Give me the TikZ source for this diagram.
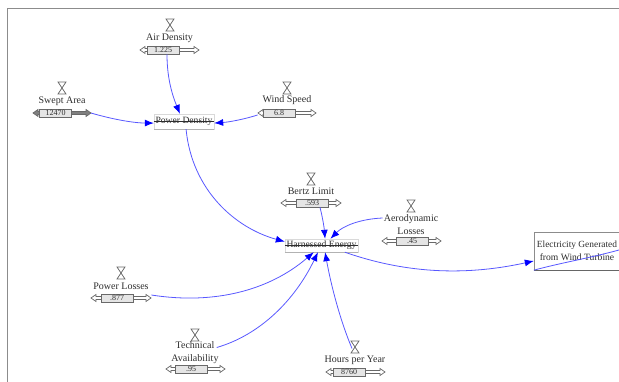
\documentclass[tikz,border=0pt]{standalone}
\usepackage{fontspec}
\setmainfont{Liberation Serif}
\usetikzlibrary{
  calc
  , arrows.meta
}
\definecolor{linkblue}{RGB}{88,88,255}
\definecolor{textgray}{RGB}{45,45,45}
\definecolor{railgray}{RGB}{105,105,105}

\begin{document}
\begin{tikzpicture}[x=1pt,y=-1pt]
      \tikzstyle{var label}=[text=textgray,font=\fontsize{10}{12.8}\selectfont,align=center,inner sep=0pt];
      \tikzstyle{stock box}=[draw=black!15,fill=white,inner sep=0pt,text=textgray
          ,font=\fontsize{9.6}{12.6}\selectfont,align=center];
      \tikzstyle{value box}=[draw=railgray,line width=0.8pt,fill=black!10,minimum width=32pt,minimum height=8pt
          ,inner sep=0pt,text=textgray,font=\fontsize{8}{8}\selectfont];
      \tikzstyle{link}=[draw=linkblue,line width=0.8pt,-{Latex[length=9pt,width=7pt,blue]}];

      \newcommand\sliderVar[7]{
        % name, rail west, rail east, box centre, rail y, value, rail fill
        \draw [railgray,fill=#7,line width=0.7pt]
        (#2,#5) -- ++(5,-3.5) -- ++(0,2) -- ({#3-5},{#5-1.5}) -- ++(0,-2) -- (#3,#5)
        -- ++(-5,3.5) -- ++(0,-2) -- ({#2+5},{#5+1.5}) -- ++(0,2) -- cycle;
        \node [value box] (#1) at (#4,#5) {#6};
      };
      \newcommand\glassAt[2]{
        \draw [railgray,line width=0.7pt]
        ({#1-4},{#2-6}) -- ({#1+4},{#2-6}) -- ({#1-4},{#2+6}) -- ({#1+4},{#2+6}) -- cycle;
      };

      \useasboundingbox (0,0) rectangle (619,382);

      % frame
      \draw [black!45,line width=0.8pt] (7,382) -- (7,8) -- (619,8);

      % stocks
      \node [stock box,minimum width=60pt,minimum height=15pt] (powerDensity) at (184,121.5) {Power Density};
      \draw [black!30,line width=1pt] (powerDensity.south west) -- (powerDensity.south east);
      \draw [textgray,line width=0.4pt] (powerDensity.west) -- (powerDensity.east);

      \node [stock box,minimum width=73pt,minimum height=13pt] (harnessedEnergy) at (321.5,245.5) {Harnessed Energy};
      \draw [black!30,line width=1pt] (harnessedEnergy.south west) -- (harnessedEnergy.south east);
      \draw [textgray,line width=0.4pt] (harnessedEnergy.west) -- (harnessedEnergy.east);

      \node [stock box,draw=black!45,minimum width=86pt,minimum height=38pt] (electricity) at (577,251)
      {\fontsize{9.4}{12.6}\selectfont Electricity Generated\\from Wind Turbine};
      \draw [black!60,line width=1.2pt] (electricity.south west) -- (electricity.south east);

      % sliders
      \glassAt{170}{25}
      \node [var label] (airDensityLabel) at (169.5,38) {Air Density};
      \sliderVar{airDensity}{140}{199}{163}{50}{1.225}{white}

      \glassAt{62}{88}
      \node [var label] (sweptAreaLabel) at (62,101) {Swept Area};
      \sliderVar{sweptArea}{33}{91}{55.5}{113}{12470}{black!50}

      \glassAt{287}{88}
      \node [var label] (windSpeedLabel) at (287,100) {Wind Speed};
      \sliderVar{windSpeed}{258}{316}{279}{113}{6.8}{white}

      \glassAt{311}{179}
      \node [var label] (bertzLimitLabel) at (311,191) {Bertz Limit};
      \sliderVar{bertzLimit}{281}{341}{312}{203}{.593}{white}

      \glassAt{411}{206}
      \node [var label] (aeroLossesLabel) at (411,224.5) {Aerodynamic\\Losses};
      \sliderVar{aeroLosses}{382}{441}{412}{241}{.45}{white}

      \glassAt{121}{273}
      \node [var label] (powerLossesLabel) at (121,286) {Power Losses};
      \sliderVar{powerLosses}{91}{151}{117}{298}{.877}{white}

      \glassAt{195}{335}
      \node [var label] (technicalLabel) at (195,353) {Technical\\Availability};
      \sliderVar{technical}{166}{225}{191}{369}{.95}{white}

      \glassAt{355}{347}
      \node [var label] (hoursLabel) at (355,360) {Hours per Year};
      \sliderVar{hours}{326}{385}{349}{372}{8760}{white}

      % links
      \draw [link] (airDensity.south) ++(4,0) .. controls (167,75) and (171,92) .. (powerDensity.118);
      \draw [link] (sweptArea.east) ++(19,0) .. controls (115,120) and (135,123) .. (powerDensity.183);
      \draw [link] (windSpeed.west) ++(-5,2) .. controls (245,119) and (230,122) .. (powerDensity.-3);
      \draw [link] (powerDensity.-75) .. controls (192,190) and (235,228) .. (harnessedEnergy.174);
      \draw [link] (bertzLimit.south) ++(8,0) .. controls (322,215) and (324,226) .. (harnessedEnergy.62);
      \draw [link] (aeroLossesLabel.west) ++(-1,-6.5) .. controls (360,219) and (343,226) .. (harnessedEnergy.37);
      \draw [link] (powerLosses.east) ++(18,-3) .. controls (215,305) and (270,290) .. (harnessedEnergy.-139);
      \draw [link] (technicalLabel.east) ++(-2,-5.5) .. controls (260,335) and (295,300) .. (harnessedEnergy.-118);
      \draw [link] (hoursLabel.north) ++(-3,-7) .. controls (340,320) and (331,285) .. (harnessedEnergy.-62);
      \draw [link] (harnessedEnergy.-16) .. controls (410,275) and (470,275) .. (electricity.193);
      \draw [linkblue,line width=0.8pt] (electricity.south west) .. controls (560,263) and (590,258) .. (619,250);
\end{tikzpicture}
\end{document}
